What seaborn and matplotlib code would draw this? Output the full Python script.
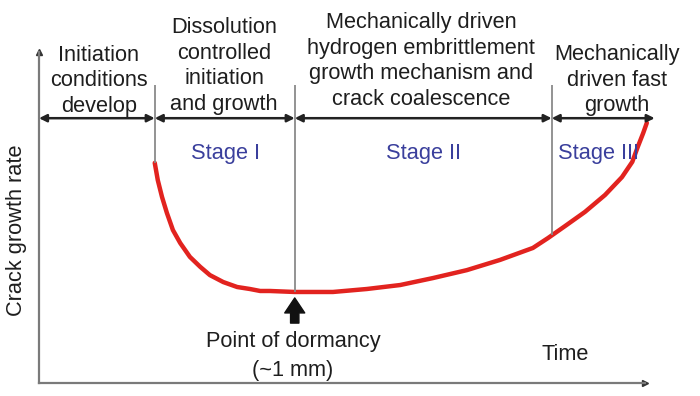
import matplotlib
matplotlib.use("Agg")
import matplotlib.pyplot as plt
import seaborn as sns
import pandas as pd

# ---- data (time and crack growth rate, arbitrary units 0-100) ----
time = [19.1, 19.6, 20.3, 21.1, 22.1, 23.3, 24.9, 26.6, 28.2, 30.4, 32.7, 34.8,
        36.5, 38.1, 42.2, 48.5, 54.1, 59.6, 65.0, 70.6, 76.1, 81.5, 84.0, 86.8,
        90.1, 93.4, 96.2, 97.9, 98.8, 99.7, 100.3]
rate = [66.5, 61.3, 56.2, 51.4, 46.2, 42.3, 38.1, 35.1, 32.6, 30.5, 29.0, 28.4,
        27.8, 27.8, 27.5, 27.5, 28.4, 29.6, 31.7, 34.1, 37.2, 40.8, 43.8, 47.4,
        51.7, 56.8, 62.2, 66.8, 71.3, 75.5, 78.6]

stage_bounds = [0.0, 19.1, 42.2, 84.6, 101.6]     # boundaries of the mechanism bands
divider_x = [19.1, 42.2, 84.6]
divider_bottom = [66.5, 27.5, 44.7]
band_y = 80.0
divider_top = 90.0

band_texts = ["Initiation\nconditions\ndevelop",
              "Dissolution\ncontrolled\ninitiation\nand growth",
              "Mechanically driven\nhydrogen embrittlement\ngrowth mechanism and\ncrack coalescence",
              "Mechanically\ndriven fast\ngrowth"]
stage_labels = ["Stage I", "Stage II", "Stage III"]

df = pd.DataFrame({"time": time, "rate": rate})

sns.set_theme(style="white")
plt.rcParams["font.family"] = ["Liberation Sans", "DejaVu Sans"]

W, H = 700, 396
fig = plt.figure(figsize=(W / 100, H / 100), dpi=100)
left, bottom, right, top = 39, 383, 645, 52
ax = fig.add_axes([left / W, 1 - bottom / H, (right - left) / W, (bottom - top) / H])
ax.set_xlim(0, 100)
ax.set_ylim(0, 100)

def fx(px):
    return px / W

def fy(py):
    return 1 - py / H

# curve
sns.lineplot(data=df, x="time", y="rate", ax=ax, color="#e2231f", linewidth=3.2,
             clip_on=False, solid_capstyle="round", solid_joinstyle="round")

# axes styling
for s in ["top", "right"]:
    ax.spines[s].set_visible(False)
for s in ["left", "bottom"]:
    ax.spines[s].set_color("#7a7a7a")
    ax.spines[s].set_linewidth(1.6)
ax.set_xticks([])
ax.set_yticks([])
ax.set_xlabel("")
ax.set_ylabel("")
ax.plot([0], [100], marker="^", color="#333333", markersize=5, clip_on=False)
ax.plot([100], [0], marker=">", color="#333333", markersize=5, clip_on=False)

# dividers
ax.vlines(divider_x, divider_bottom, divider_top, color="#8a8a8a", linewidth=1.3)

# band arrows
for x0, x1 in zip(stage_bounds[:-1], stage_bounds[1:]):
    ax.annotate("", xy=(x1, band_y), xytext=(x0, band_y), annotation_clip=False,
                arrowprops=dict(arrowstyle="<|-|>", color="#222222", lw=1.8,
                                mutation_scale=11, shrinkA=0, shrinkB=0))

# point of dormancy arrow
ax.annotate("", xy=(42.2, 25.7), xytext=(42.2, 18.1), annotation_clip=False,
            arrowprops=dict(arrowstyle="simple,head_length=0.9,head_width=1.2,tail_width=0.5",
                            color="#111111", mutation_scale=12, shrinkA=0, shrinkB=0))

txt = dict(fontsize=15.7, color="#1e1e1e", ha="center", va="center", linespacing=1.29)
band_pos = [(99, 81), (224, 66), (421, 61), (617, 80)]
for t, (px, py) in zip(band_texts, band_pos):
    fig.text(fx(px), fy(py), t, **txt)

stage_pos = [(225, 153), (423, 153), (599, 153)]
for t, (px, py) in zip(stage_labels, stage_pos):
    fig.text(fx(px), fy(py), t, fontsize=15.7, color="#3a3f9c", ha="center", va="center")

dorm = dict(txt)
dorm["linespacing"] = 1.45
fig.text(fx(293), fy(356), "Point of dormancy\n(~1 mm)", **dorm)
fig.text(fx(565), fy(354), "Time", **txt)
fig.text(fx(17), fy(230), "Crack growth rate", rotation=90, **txt)

fig.savefig("out.png", dpi=100)
